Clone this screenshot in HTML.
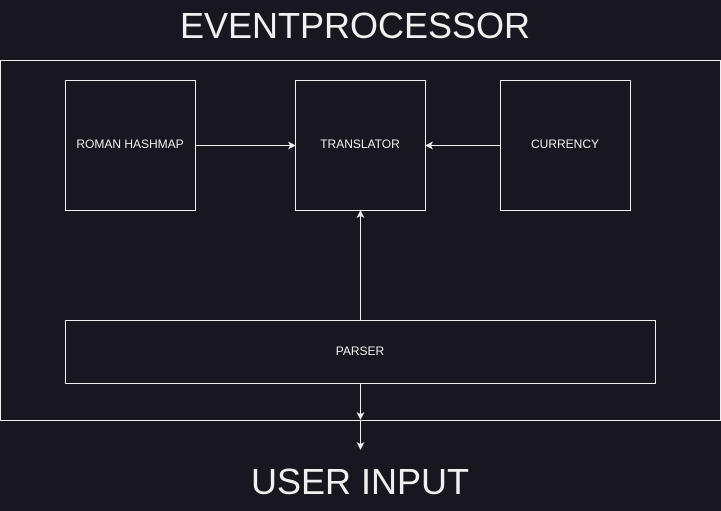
<!DOCTYPE html>
<html><head><style>
html,body{margin:0;padding:0;background:#18161e;}
body{width:721px;height:511px;overflow:hidden;}
</style></head><body>
<svg width="721" height="511" xmlns="http://www.w3.org/2000/svg" style="display:block">
<rect width="721" height="511" fill="#18161e"/>
<text x="355" y="38" text-anchor="middle" font-family="Liberation Sans, sans-serif" font-size="36" fill="#f0f0f0">EVENTPROCESSOR</text>
<rect x="0.5" y="60.5" width="720" height="360" fill="none" stroke="#f0f0f0" stroke-width="1"/>
<rect x="65.5" y="80.5" width="130" height="130" fill="none" stroke="#f0f0f0"/>
<rect x="295.5" y="80.5" width="130" height="130" fill="none" stroke="#f0f0f0"/>
<rect x="500.5" y="80.5" width="130" height="130" fill="none" stroke="#f0f0f0"/>
<rect x="65.5" y="320.5" width="590" height="63" fill="none" stroke="#f0f0f0"/>
<g font-family="Liberation Sans, sans-serif" font-size="12" fill="#f0f0f0" text-anchor="middle">
<text x="130" y="148">ROMAN HASHMAP</text>
<text x="360" y="148">TRANSLATOR</text>
<text x="565" y="148">CURRENCY</text>
<text x="360" y="355">PARSER</text>
</g>
<g stroke="#f0f0f0" stroke-width="1" fill="none">
<line x1="196" y1="145.5" x2="290" y2="145.5"/>
<line x1="500" y1="145.5" x2="431" y2="145.5"/>
<line x1="360.5" y1="320" x2="360.5" y2="216"/>
<line x1="360.5" y1="384" x2="360.5" y2="414"/>
<line x1="360.5" y1="421" x2="360.5" y2="444"/>
</g>
<g fill="#f0f0f0">
<polygon points="296,145.5 288,141.5 290,145.5 288,149.5"/>
<polygon points="425,145.5 433,141.5 431,145.5 433,149.5"/>
<polygon points="360.5,210 356.5,218 360.5,216 364.5,218"/>
<polygon points="360.5,420 356.5,412 360.5,414 364.5,412"/>
<polygon points="360.5,450 356.5,442 360.5,444 364.5,442"/>
</g>
<text x="360" y="494" text-anchor="middle" font-family="Liberation Sans, sans-serif" font-size="36" fill="#f0f0f0">USER INPUT</text>
</svg>
</body></html>
